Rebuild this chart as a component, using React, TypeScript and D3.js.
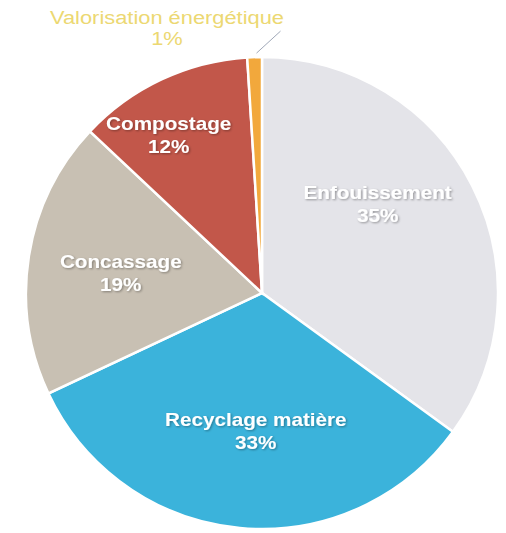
import React from "react";
import * as d3 from "d3";

const categories = ["Enfouissement", "Recyclage matière", "Concassage", "Compostage", "Valorisation énergétique"];
const values = [35, 33, 19, 12, 1];
const labels = ["35%", "33%", "19%", "12%", "1%"];
const colors = ["#e4e4e9", "#3bb3db", "#c8c0b3", "#c2574a", "#f2a83c"];

const W = 506;
const H = 533;
const cx = 262;
const cy = 293;
const R = 236;

export default function App() {
  const pie = d3.pie<number>().sort(null).value((d) => d)(values);
  const arc = d3.arc<d3.PieArcDatum<number>>().innerRadius(0).outerRadius(R);
  const labelArc = d3.arc<d3.PieArcDatum<number>>().innerRadius(R * 0.55).outerRadius(R * 0.55);
  const font = "Liberation Sans, Arial, sans-serif";
  return (
    <svg width={W} height={H} style={{ position: "absolute", left: 0, top: 0, background: "#fff" }}>
      <defs>
        <filter id="sh" x="-10%" y="-10%" width="120%" height="130%">
          <feDropShadow dx="1" dy="1" stdDeviation="0.8" floodColor="#000" floodOpacity="0.35" />
        </filter>
      </defs>
      <g transform={`translate(${cx},${cy})`}>
        {pie.map((p, i) => (
          <path key={i} d={arc(p) || ""} fill={colors[i]} stroke="#fff" strokeWidth={2.5} />
        ))}
        {pie.slice(0, 4).map((p, i) => {
          const [x, y] = labelArc.centroid(p);
          const adj = [[0, -35], [6, 4], [-13, -5], [-38, -46]][i];
          return (
            <text key={i} transform={`translate(${x + adj[0]},${y + adj[1]}) scale(1.15,1)`} textAnchor="middle" fill="#fff"
              fontFamily={font} fontWeight="bold" fontSize={18} filter="url(#sh)">
              <tspan x={0} dy="0">{categories[i]}</tspan>
              <tspan x={0} dy="23">{labels[i]}</tspan>
            </text>
          );
        })}
      </g>
      {(() => {
        const p = pie[4];
        const a = (p.startAngle + p.endAngle) / 2;
        const x1 = cx + Math.sin(a) * (R + 2);
        const y1 = cy - Math.cos(a) * (R + 2);
        return (
          <g>
            <line x1={x1 + 2} y1={y1 - 2} x2={x1 + 26} y2={y1 - 24} stroke="#a0a8b8" strokeWidth={1} />
            <text transform={`translate(167,24) scale(1.15,1)`} textAnchor="middle" fill="#ecd872" fontFamily={font} fontSize={19}>
              <tspan x={0} dy="0">{categories[4]}</tspan>
              <tspan x={0} dy="21">{labels[4]}</tspan>
            </text>
          </g>
        );
      })()}
    </svg>
  );
}
